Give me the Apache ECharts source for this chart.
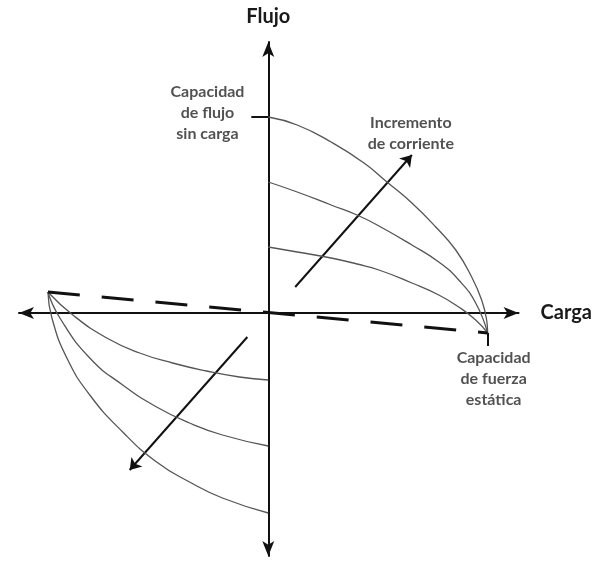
<!DOCTYPE html>
<html lang="es">
    <head>
        <meta charset="UTF-8" />
        <script type="text/javascript" src="https://cdn.jsdelivr.net/npm/echarts@6/dist/echarts.min.js"></script>
        <title>Flujo - Carga</title>
        <style type="text/css">
            html, body { margin: 0; padding: 0; background: #fff; }
            #chart { width: 595px; height: 565px; }
        </style>
    </head>
    <body>
        <div id="chart"></div>
        <script type="text/javascript">
            // curvas (carga, flujo) en unidades del dibujo
            let curvaAlta = [[0, 196], [29, 188], [63, 171], [96, 150], [119, 131], [144, 110], [168, 86], [188, 63], [204, 36], [214, 13], [219, -7], [220, -20]];
            let curvaMedia = [[0, 131], [29, 121], [63, 108], [89, 98], [111, 87], [144, 68], [171, 51], [191, 33], [208, 10], [220, -20]];
            let curvaBaja = [[0, 66], [29, 61], [63, 55], [89, 49], [111, 43], [144, 30], [171, 18], [191, 6], [208, -7], [220, -20]];

            let inversaA = [[-221, 21], [-196, -2], [-162, -25], [-129, -40], [-96, -50], [-62, -58], [-29, -64], [0, -67]];
            let inversaB = [[-221, 21], [-209, -5], [-179, -45], [-146, -72], [-112, -94], [-79, -110], [-46, -122], [0, -133]];
            let inversaC = [[-221, 21], [-217, -5], [-202, -45], [-179, -82], [-146, -119], [-112, -149], [-79, -169], [-46, -185], [0, -200]];

            let rectaCarga = [[-221, 21], [220, -20]];

            let flechas = [
                [[27, 26], [144, 158]],
                [[-21, -24], [-139, -157]],
            ];
            let marcas = [
                [[-17, 196], [0, 196]],
                [[220, -20], [220, -33]],
            ];

            let etiquetas = [
                { value: [-61, 200], text: "Capacidad\nde flujo\nsin carga" },
                { value: [143, 180], text: "Incremento\nde corriente" },
                { value: [226, -66], text: "Capacidad\nde fuerza\nestática" },
            ];

            let chart = echarts.init(document.getElementById("chart"));

            function curva(data) {
                return {
                    type: "line",
                    data: data,
                    smooth: 0.5,
                    symbol: "none",
                    silent: true,
                    lineStyle: { color: "#555", width: 1.3 },
                };
            }

            let ejeLinea = {
                onZero: true,
                symbol: ["arrow", "arrow"],
                symbolSize: [9, 15],
                lineStyle: { color: "#111", width: 2 },
            };

            let option = {
                animation: false,
                grid: { left: 19, right: 75, top: 42, bottom: 9 },
                xAxis: {
                    type: "value",
                    min: -250,
                    max: 251,
                    name: "Carga",
                    nameLocation: "end",
                    nameGap: 22,
                    nameTextStyle: { fontFamily: "Lato", fontWeight: "bold", fontSize: 20, color: "#1a1a1a" },
                    axisLine: ejeLinea,
                    axisTick: { show: false },
                    axisLabel: { show: false },
                    splitLine: { show: false },
                },
                yAxis: {
                    type: "value",
                    min: -243,
                    max: 271,
                    name: "Flujo",
                    nameLocation: "end",
                    nameGap: 15,
                    nameTextStyle: { fontFamily: "Lato", fontWeight: "bold", fontSize: 20, color: "#1a1a1a" },
                    axisLine: ejeLinea,
                    axisTick: { show: false },
                    axisLabel: { show: false },
                    splitLine: { show: false },
                },
                series: [
                    curva(curvaAlta),
                    curva(curvaMedia),
                    curva(curvaBaja),
                    curva(inversaA),
                    curva(inversaB),
                    curva(inversaC),
                    {
                        type: "line",
                        data: rectaCarga,
                        symbol: "none",
                        silent: true,
                        lineStyle: { color: "#111", width: 3, type: [32, 22] },
                    },
                    {
                        type: "lines",
                        coordinateSystem: "cartesian2d",
                        data: flechas.map((f) => ({ coords: f })),
                        symbol: ["none", "arrow"],
                        symbolSize: 11,
                        lineStyle: { color: "#111", width: 2, curveness: 0, opacity: 1 },
                    },
                    {
                        type: "lines",
                        coordinateSystem: "cartesian2d",
                        data: marcas.map((m) => ({ coords: m })),
                        symbol: "none",
                        lineStyle: { color: "#111", width: 2, curveness: 0, opacity: 1 },
                    },
                    {
                        type: "scatter",
                        symbolSize: 1,
                        itemStyle: { color: "transparent" },
                        data: etiquetas.map((e) => ({ value: e.value, name: e.text })),
                        label: {
                            show: true,
                            position: "inside",
                            formatter: (p) => p.name,
                            align: "center",
                            verticalAlign: "middle",
                            fontFamily: "Lato",
                            fontWeight: "bold",
                            fontSize: 16,
                            lineHeight: 21,
                            color: "#262626",
                        },
                    },
                ],
            };
            chart.setOption(option);
        </script>
    </body>
</html>
